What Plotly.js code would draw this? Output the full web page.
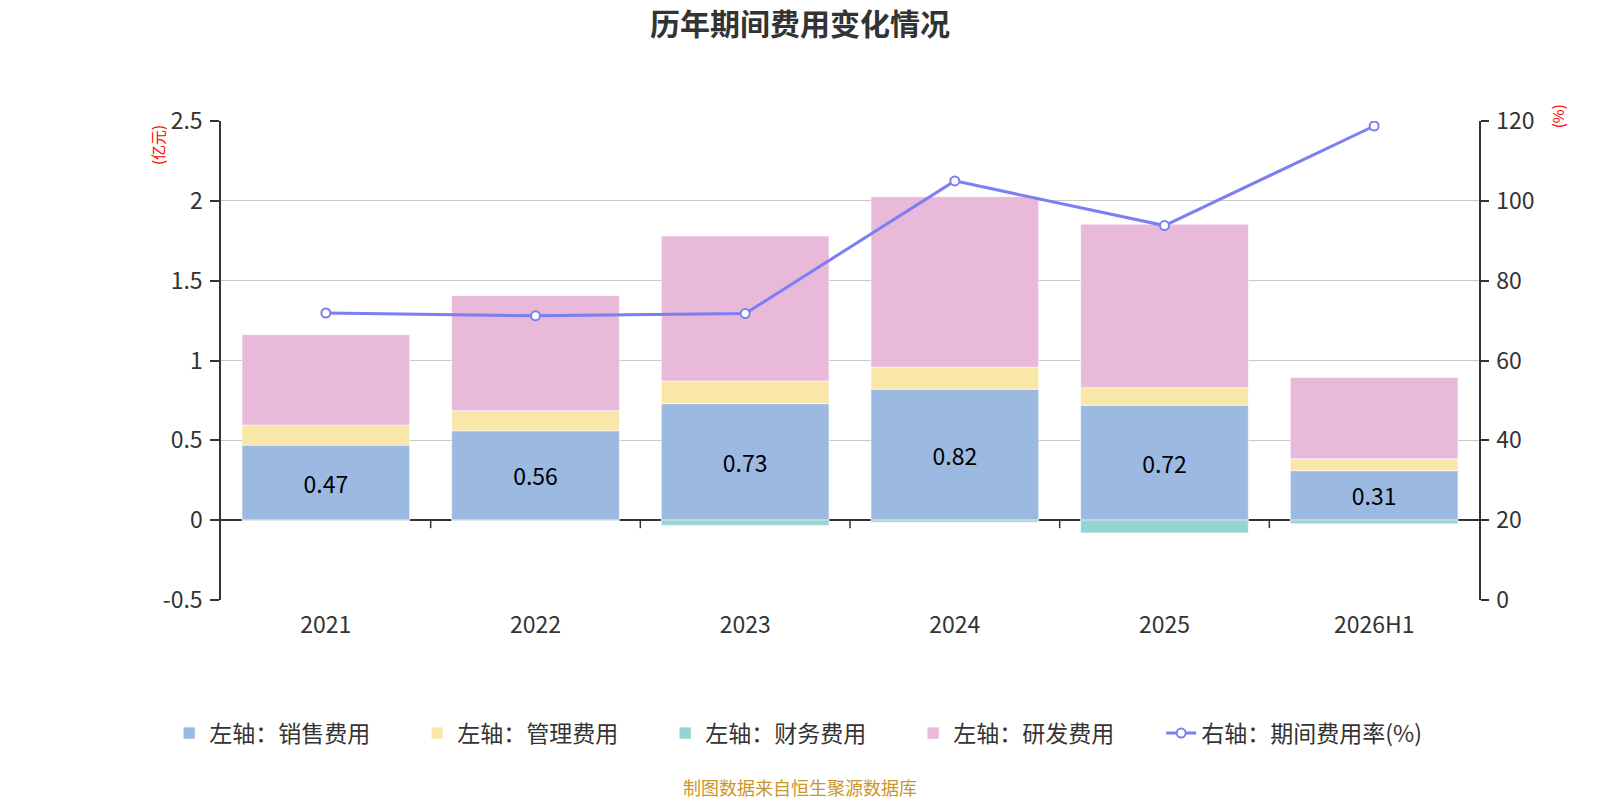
<!DOCTYPE html>
<html>
<head>
<meta charset="utf-8">
<script src="https://cdn.plot.ly/plotly-3.0.1.min.js"></script>
<style>
  body { margin: 0; background: #fff; }
  #chart { width: 1600px; height: 800px; }
</style>
</head>
<body>
<div id="chart"></div>
<script>
// data
const years = ['2021', '2022', '2023', '2024', '2025', '2026H1'];
const sales = [0.47, 0.56, 0.73, 0.82, 0.72, 0.31];        // 销售费用 (亿元)
const admin = [0.125, 0.126, 0.141, 0.138, 0.11, 0.074];   // 管理费用
const finance = [-0.003, -0.003, -0.033, -0.013, -0.08, -0.023]; // 财务费用
const rnd = [0.567, 0.72, 0.909, 1.067, 1.024, 0.51];      // 研发费用
const expenseRate = [71.9, 71.2, 71.75, 105, 93.8, 118.75]; // 期间费用率(%)

const leftTicks = [-0.5, 0, 0.5, 1, 1.5, 2, 2.5];
const leftTickText = ['-0.5', '0', '0.5', '1', '1.5', '2', '2.5'];
const rightTicks = [0, 20, 40, 60, 80, 100, 120];

const FONT = '"Noto Sans CJK SC", "Noto Sans", sans-serif';
const edge = {color: 'rgba(255,255,255,0.6)', width: 1};
const ITEM_W = 203;

const traces = [
  {
    type: 'bar', name: '左轴：销售费用', x: years, y: sales, legendwidth: ITEM_W,
    marker: {color: '#9cb9e2', line: edge},
    text: sales.map(v => v.toFixed(2)),
    textposition: 'inside', insidetextanchor: 'middle', textangle: 0,
    textfont: {color: '#000', size: 23, family: FONT},
    hoverinfo: 'x+y'
  },
  {
    type: 'bar', name: '左轴：管理费用', x: years, y: admin, legendwidth: ITEM_W,
    marker: {color: '#f8e7a8', line: edge}, hoverinfo: 'x+y'
  },
  {
    type: 'bar', name: '左轴：财务费用', x: years, y: finance, legendwidth: ITEM_W,
    marker: {color: '#96d4d4', line: edge}, hoverinfo: 'x+y'
  },
  {
    type: 'bar', name: '左轴：研发费用', x: years, y: rnd, legendwidth: ITEM_W,
    marker: {color: '#e8b9d9', line: edge}, hoverinfo: 'x+y'
  },
  {
    type: 'scatter', mode: 'lines+markers', name: '右轴：期间费用率(%)',
    x: years, y: expenseRate, yaxis: 'y2',
    line: {color: '#7b7ff2', width: 3},
    marker: {symbol: 'circle', size: 9, color: '#fff', line: {color: '#7b7ff2', width: 2}}
  }
];

// little ticks hanging under the zero line, at the category boundaries
const shapes = [];
for (let i = 1; i < years.length; i++) {
  shapes.push({
    type: 'line', xref: 'x', yref: 'y', ysizemode: 'pixel', yanchor: 0,
    x0: i - 0.5, x1: i - 0.5, y0: 0, y1: -8,
    line: {color: '#333', width: 1.5}
  });
}

const layout = {
  width: 1600, height: 800,
  paper_bgcolor: '#fff', plot_bgcolor: '#fff',
  font: {family: FONT, color: '#333', size: 23},
  margin: {l: 221, r: 121, t: 121, b: 200},
  barmode: 'relative', bargap: 0.2,
  title: {
    text: '<b>历年期间费用变化情况</b>',
    font: {size: 30, color: '#333', family: FONT},
    x: 0.5, xanchor: 'center', xref: 'container',
    y: 0.97, yanchor: 'middle', yref: 'container'
  },
  xaxis: {
    type: 'category', showgrid: false, showline: false, zeroline: false,
    ticks: '', ticklabelstandoff: 9,
    tickfont: {size: 23, color: '#333'}
  },
  yaxis: {
    range: [-0.5, 2.5], tickvals: leftTicks, ticktext: leftTickText,
    showgrid: true, gridcolor: '#c8c8c8', gridwidth: 1.4,
    zeroline: true, zerolinecolor: '#333', zerolinewidth: 1.5,
    showline: true, linecolor: '#333', linewidth: 1.5,
    ticks: 'outside', ticklen: 9, tickcolor: '#333', tickwidth: 1.5,
    ticklabelstandoff: 3,
    tickfont: {size: 23, color: '#333'}
  },
  yaxis2: {
    overlaying: 'y', side: 'right', range: [0, 120], tickvals: rightTicks,
    showgrid: false, zeroline: false,
    showline: true, linecolor: '#333', linewidth: 1.5,
    ticks: 'outside', ticklen: 8, tickcolor: '#333', tickwidth: 1.5,
    ticklabelstandoff: 3,
    tickfont: {size: 23, color: '#333'}
  },
  showlegend: true,
  legend: {
    orientation: 'h', x: -0.0412, xanchor: 'left', y: -0.278, yanchor: 'middle',
    font: {size: 23, color: '#333'}, traceorder: 'normal', itemclick: false
  },
  shapes: shapes,
  annotations: [
    {
      text: '(亿元)', xref: 'paper', yref: 'paper', x: -0.05, y: 0.95,
      xanchor: 'center', yanchor: 'middle', textangle: -90, showarrow: false,
      font: {size: 15, color: '#ff0000'}
    },
    {
      text: '(%)', xref: 'paper', yref: 'paper', x: 1.062, y: 1.01,
      xanchor: 'center', yanchor: 'middle', textangle: -90, showarrow: false,
      font: {size: 15, color: '#ff0000'}
    },
    {
      text: '制图数据来自恒生聚源数据库', xref: 'paper', yref: 'paper',
      x: 0.46, y: (600 - 787) / 479, xanchor: 'center', yanchor: 'middle', showarrow: false,
      font: {size: 18, color: '#c9962c'}
    }
  ]
};

Plotly.newPlot('chart', traces, layout, {displayModeBar: false, responsive: false});
</script>
</body>
</html>
